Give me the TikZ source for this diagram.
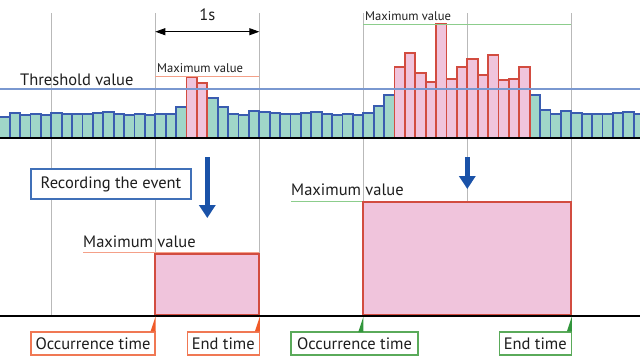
\documentclass[tikz,border=0pt]{standalone}
\usepackage{fontspec}
\setmainfont{PT Sans}
\usetikzlibrary{arrows.meta}
\definecolor{barteal}{RGB}{160,214,200}
\definecolor{barblue}{RGB}{58,92,176}
\definecolor{barpink}{RGB}{240,196,220}
\definecolor{barred}{RGB}{210,76,64}
\definecolor{threshblue}{RGB}{122,152,208}
\definecolor{gridgray}{RGB}{185,185,185}
\definecolor{orangeline}{RGB}{244,160,136}
\definecolor{orangebox}{RGB}{240,120,84}
\definecolor{orangetri}{RGB}{240,90,40}
\definecolor{greenline}{RGB}{140,205,140}
\definecolor{greenbox}{RGB}{90,170,90}
\definecolor{greentri}{RGB}{50,150,60}
\definecolor{arrowblue}{RGB}{26,82,168}
\definecolor{recblue}{RGB}{64,112,184}
\definecolor{txt}{RGB}{30,30,30}
\newcommand\fbig{\fontsize{16.5}{19}\selectfont}
\newcommand\fsml{\fontsize{12.6}{14}\selectfont}
\begin{document}
\begin{tikzpicture}[x=1pt,y=-1pt,
  tealbar/.style={fill=barteal, draw=barblue, line width=1.7pt},
  pinkbar/.style={fill=barpink, draw=barred, line width=1.7pt},
  gridline/.style={draw=gridgray, line width=0.8pt},
  lbl/.style={inner sep=0pt, font=\fbig, text=txt},
  slbl/.style={inner sep=0pt, font=\fsml, text=txt},
  obox/.style={draw=orangebox, line width=1.2pt, fill=white, minimum height=23pt, inner sep=0pt, font=\fbig, text=txt},
  gbox/.style={draw=greenbox, line width=1.2pt, fill=white, minimum height=23pt, inner sep=0pt, font=\fbig, text=txt},
  bigarrow/.style={draw=arrowblue, line width=5pt, -{Triangle[length=13pt,width=16pt]}},
]
\useasboundingbox (0,0) rectangle (640,360);
% grid lines
\foreach \gx [count=\k] in {51.3,155.3,259.3,363.3,467.3,571.3} {
  \coordinate (gt\k) at (\gx,13);
  \coordinate (gb\k) at (\gx,315);
  \draw[gridline] (gt\k) -- (gb\k);
}
% bars
\def\tops{116.7,113.3,115,113.7,115,112.7,113.7,114.3,114.3,112.7,112,113.7,115,114.3,115,113.7,113.7,107,76.7,82.7,97.7,107.3,113.7,115,111,112.3,113.3,114.3,114.3,112.7,111.7,113.7,115,114.3,115,113.3,106,94.7,66.7,53.3,72.7,82.3,24.3,78.7,66.7,59.3,75.3,54.7,80.3,78.7,66.7,94.7,110,113.7,111,112.7,113.7,114.3,114.3,112.7,112,113.7}
\foreach \t [count=\i from 0] in \tops {
  \pgfmathtruncatemacro\pk{((\i==18)||(\i==19)||((\i>37)&&(\i<51)))?1:0}
  \ifnum\pk=0
    \pgfmathsetmacro\xl{-0.7+10.4*\i}
    \draw[tealbar] (\xl,138) rectangle ++(10.4,\t-138);
  \fi
}
\foreach \t [count=\i from 0] in \tops {
  \pgfmathtruncatemacro\pk{((\i==18)||(\i==19)||((\i>37)&&(\i<51)))?1:0}
  \ifnum\pk=1
    \pgfmathsetmacro\xl{-0.7+10.4*\i}
    \draw[pinkbar] (\xl,138) rectangle ++(10.4,\t-138);
  \fi
}
% threshold and baselines
\coordinate (thl) at (0,89); \coordinate (thr) at (640,89);
\draw[threshblue, line width=1.6pt] (thl) -- (thr);
\coordinate (b1l) at (0,138); \coordinate (b1r) at (640,138);
\draw[black, line width=2pt] (b1l) -- (b1r);
\node[lbl, anchor=base west] (thresh) at (20,85) {Threshold value};
% 1s dimension
\coordinate (d1) at (155.3,31.7); \coordinate (d2) at (259.3,31.7);
\draw[black, line width=0.9pt, {Triangle[length=10pt,width=7pt]}-{Triangle[length=10pt,width=7pt]}] (d1) -- (d2);
\node[lbl, anchor=base] (onesec) at (207.3,20) {1s};
% top maximum values
\node[slbl, anchor=base west] (maxtl) at (157,72) {Maximum value};
\coordinate (ml1) at (155.3,76); \coordinate (ml2) at (259.3,76);
\draw[orangeline, line width=1pt] (ml1) -- (ml2);
\node[slbl, anchor=base west] (maxtr) at (365,20) {Maximum value};
\coordinate (mr1) at (363.3,24); \coordinate (mr2) at (571.3,24);
\draw[greenline, line width=1pt] (mr1) -- (mr2);
% arrows
\coordinate (a1s) at (207.3,157); \coordinate (a1e) at (207.3,218);
\draw[bigarrow] (a1s) -- (a1e);
\coordinate (a2s) at (467.3,157); \coordinate (a2e) at (467.3,189);
\draw[bigarrow] (a2s) -- (a2e);
\node[draw=recblue, line width=1.2pt, fill=white, minimum width=160pt, minimum height=30pt, inner sep=0pt, font=\fbig, text=txt] (rec) at (111,184) {Recording the event};
% lower event rectangles
\node[lbl, anchor=base west] (maxbl) at (83,247) {Maximum value};
\coordinate (bl1) at (83,252.7); \coordinate (bl2) at (259.3,252.7);
\draw[orangeline, line width=1.4pt] (bl1) -- (bl2);
\draw[fill=barpink, draw=barred, line width=1.8pt] (155.3,254) rectangle (259.3,315);
\node[lbl, anchor=base west] (maxbr) at (291,195) {Maximum value};
\coordinate (br1) at (291,201.7); \coordinate (br2) at (363.3,201.7);
\draw[greenline, line width=1.4pt] (br1) -- (br2);
\draw[fill=barpink, draw=barred, line width=1.8pt] (363.3,201.7) rectangle (571.3,315);
\coordinate (b2l) at (0,315.7); \coordinate (b2r) at (640,315.7);
\draw[black, line width=2pt] (b2l) -- (b2r);
% bottom labels
\node[obox, minimum width=124pt] (occL) at (93,343.5) {Occurrence time};
\node[obox, minimum width=72pt] (endL) at (223.3,343.5) {End time};
\node[gbox, minimum width=127pt] (occR) at (354.5,343.5) {Occurrence time};
\node[gbox, minimum width=72pt] (endR) at (535.3,343.5) {End time};
\fill[orangetri] (occL.north east) -- ++(0,-15) -- ++(-5,15) -- cycle;
\fill[orangetri] (endL.north east) -- ++(0,-15) -- ++(-5,15) -- cycle;
\fill[greentri] (gb4) ++(0,17) -- ++(0,-15) -- ++(-5,15) -- cycle;
\fill[greentri] (endR.north east) -- ++(0,-15) -- ++(-5,15) -- cycle;
\end{tikzpicture}
\end{document}
